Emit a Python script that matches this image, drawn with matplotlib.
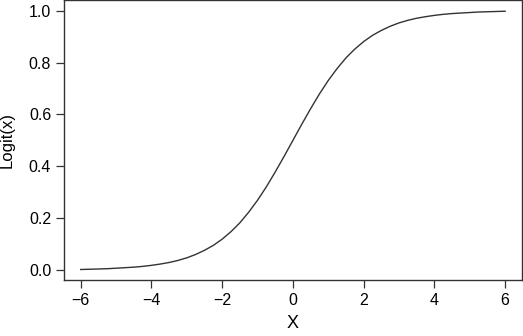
import matplotlib
matplotlib.use("Agg")
import matplotlib.pyplot as plt

# values
x_vals = [-6.0, -5.75, -5.5, -5.25, -5.0, -4.75, -4.5, -4.25, -4.0, -3.75, -3.5, -3.25,
          -3.0, -2.75, -2.5, -2.25, -2.0, -1.75, -1.5, -1.25, -1.0, -0.75, -0.5, -0.25,
          0.0, 0.25, 0.5, 0.75, 1.0, 1.25, 1.5, 1.75, 2.0, 2.25, 2.5, 2.75,
          3.0, 3.25, 3.5, 3.75, 4.0, 4.25, 4.5, 4.75, 5.0, 5.25, 5.5, 5.75, 6.0]
y_vals = [0.002, 0.003, 0.004, 0.005, 0.007, 0.009, 0.011, 0.014, 0.018, 0.023, 0.029, 0.037,
          0.047, 0.060, 0.076, 0.095, 0.119, 0.148, 0.182, 0.223, 0.269, 0.321, 0.378, 0.438,
          0.500, 0.562, 0.622, 0.679, 0.731, 0.777, 0.818, 0.852, 0.881, 0.905, 0.924, 0.940,
          0.953, 0.963, 0.971, 0.977, 0.982, 0.986, 0.989, 0.991, 0.993, 0.995, 0.996, 0.997, 0.998]
x_ticks = [-6, -4, -2, 0, 2, 4, 6]
y_ticks = [0.0, 0.2, 0.4, 0.6, 0.8, 1.0]

plt.rcParams["font.family"] = ["Liberation Sans", "DejaVu Sans"]

fig = plt.figure(figsize=(5.23, 3.36), dpi=100)
ax = fig.add_axes([0.1218, 0.1655, 0.8765, 0.8335])
ax.plot(x_vals, y_vals, color="#333333", lw=1.0)

ax.set_xlim(-6.48, 6.48)
ax.set_ylim(-0.04, 1.04)
ax.set_xticks(x_ticks)
ax.set_xticklabels([str(t).replace("-", "\u2212") for t in x_ticks])
ax.set_yticks(y_ticks)
ax.set_yticklabels([f"{t:.1f}" for t in y_ticks])
ax.tick_params(direction="out", length=6, width=0.9, color="#333333",
               labelsize=11.5, pad=3)
for s in ax.spines.values():
    s.set_color("#333333")
    s.set_linewidth(1.0)

ax.set_xlabel("X", fontsize=13, labelpad=5)
ax.set_ylabel("Logit(x)", fontsize=12, labelpad=10)

fig.savefig("out.png", dpi=100)
